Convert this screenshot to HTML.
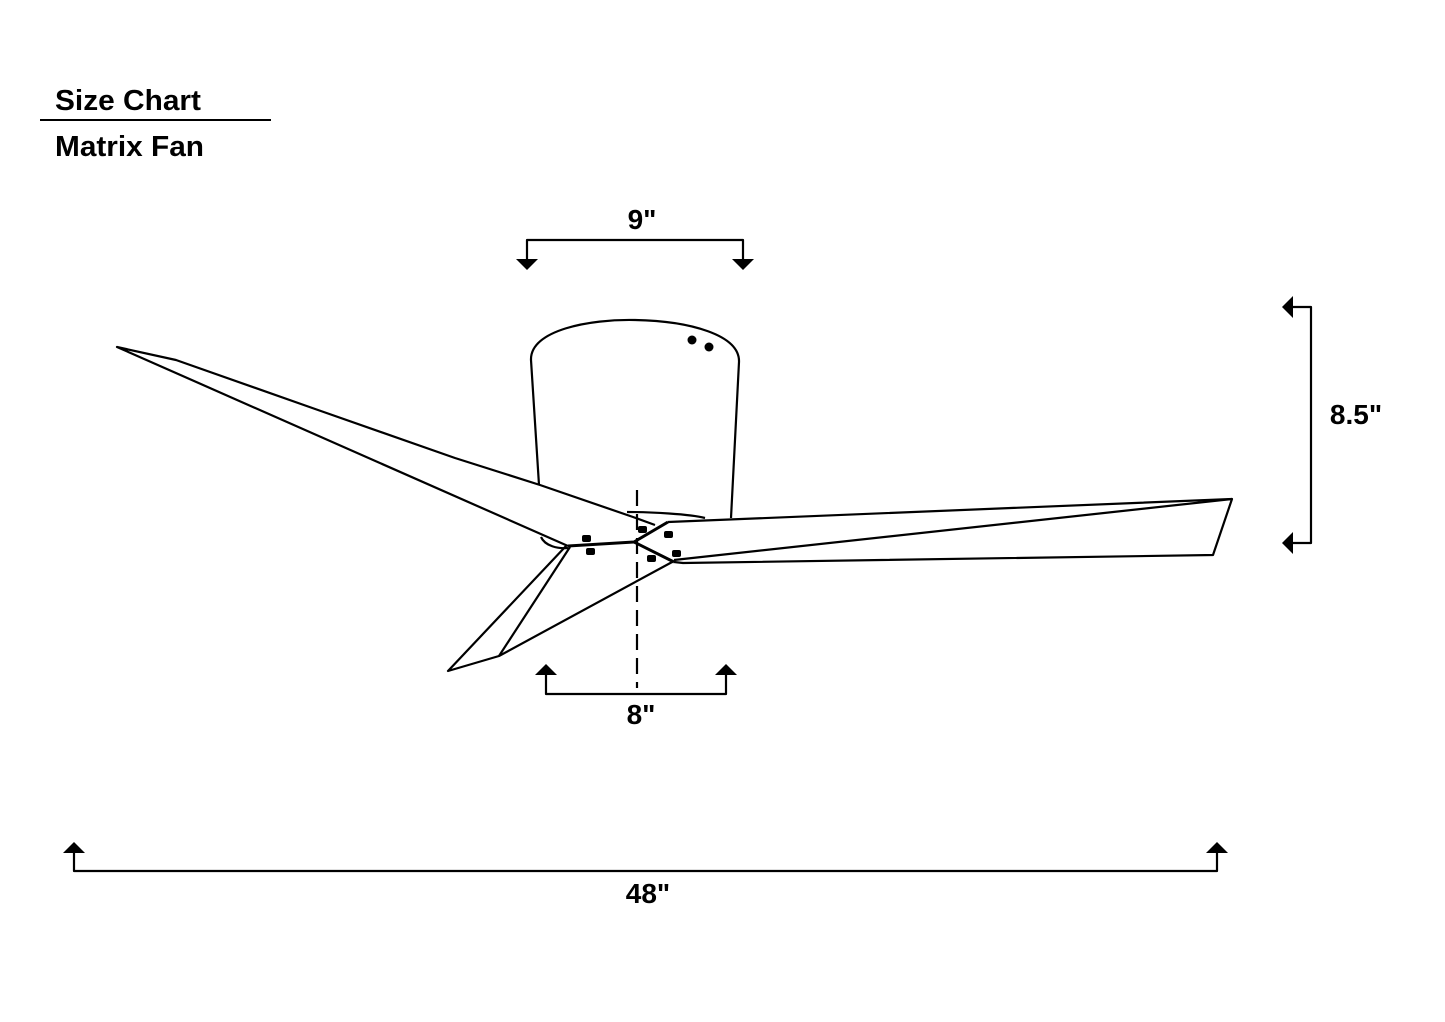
<!DOCTYPE html>
<html><head><meta charset="utf-8"><style>
html,body{margin:0;padding:0;background:#fff}
svg{display:block}
text{font-family:"Liberation Sans",Arial,sans-serif;font-weight:bold;fill:#000}
</style></head><body>
<svg width="1445" height="1022" viewBox="0 0 1445 1022" xmlns="http://www.w3.org/2000/svg">
<rect width="1445" height="1022" fill="#fff"/>
<text x="55" y="110" font-size="29" textLength="146" lengthAdjust="spacingAndGlyphs">Size Chart</text>
<line x1="40" y1="120" x2="271" y2="120" stroke="#000" stroke-width="2"/>
<text x="55" y="156" font-size="29" textLength="149" lengthAdjust="spacingAndGlyphs">Matrix Fan</text>

<g fill="none" stroke="#000" stroke-width="2.2" stroke-linejoin="round">
<polyline points="527,263 527,240 743,240 743,263"/>
<polyline points="1290,307 1311,307 1311,543 1290,543"/>
<polyline points="546,672 546,694 726,694 726,672"/>
<polyline points="74,850 74,871 1217,871 1217,850"/>

<path d="M539,485 L531,360 C530,330 590,319 635,320 C690,321 740,335 739,362 L731,518"/>
<path d="M541,537 C545,546 558,549 568,548"/>
<path d="M627,512 C650,512 690,514 705,518"/>
<polyline points="568,546 117,347 176,360 318,410 455,458 540,485 633,517 655,525"/>
<polyline points="568,546 634,542 668,522" stroke-width="3"/>
<polyline points="634,542 674,562" stroke-width="3"/>
<polyline points="668,522 1232,499 1213,555 683,563 674,562"/>
<line x1="674" y1="560" x2="1232" y2="499"/>
<polyline points="566,546 448,671 499,656 674,561"/>
<line x1="570" y1="547" x2="499" y2="656"/>
<line x1="637" y1="490" x2="637" y2="688" stroke-dasharray="16,8"/>
</g>

<g fill="#000">
<polygon points="516,259 538,259 527,270"/>
<polygon points="732,259 754,259 743,270"/>
<polygon points="1293,296 1293,318 1282,307"/>
<polygon points="1293,532 1293,554 1282,543"/>
<polygon points="535,675 557,675 546,664"/>
<polygon points="715,675 737,675 726,664"/>
<polygon points="63,853 85,853 74,842"/>
<polygon points="1206,853 1228,853 1217,842"/>
<circle cx="692" cy="340" r="4.5"/>
<circle cx="709" cy="347" r="4.5"/>
<rect x="582" y="535" width="9" height="7" rx="2"/>
<rect x="586" y="548" width="9" height="7" rx="2"/>
<rect x="638" y="526" width="9" height="7" rx="2"/>
<rect x="664" y="531" width="9" height="7" rx="2"/>
<rect x="647" y="555" width="9" height="7" rx="2"/>
<rect x="672" y="550" width="9" height="7" rx="2"/>
</g>

<text x="642" y="229" font-size="28" text-anchor="middle">9"</text>
<text x="1356" y="424" font-size="28" text-anchor="middle">8.5"</text>
<text x="641" y="724" font-size="28" text-anchor="middle">8"</text>
<text x="648" y="903" font-size="28" text-anchor="middle">48"</text>
</svg>
</body></html>
